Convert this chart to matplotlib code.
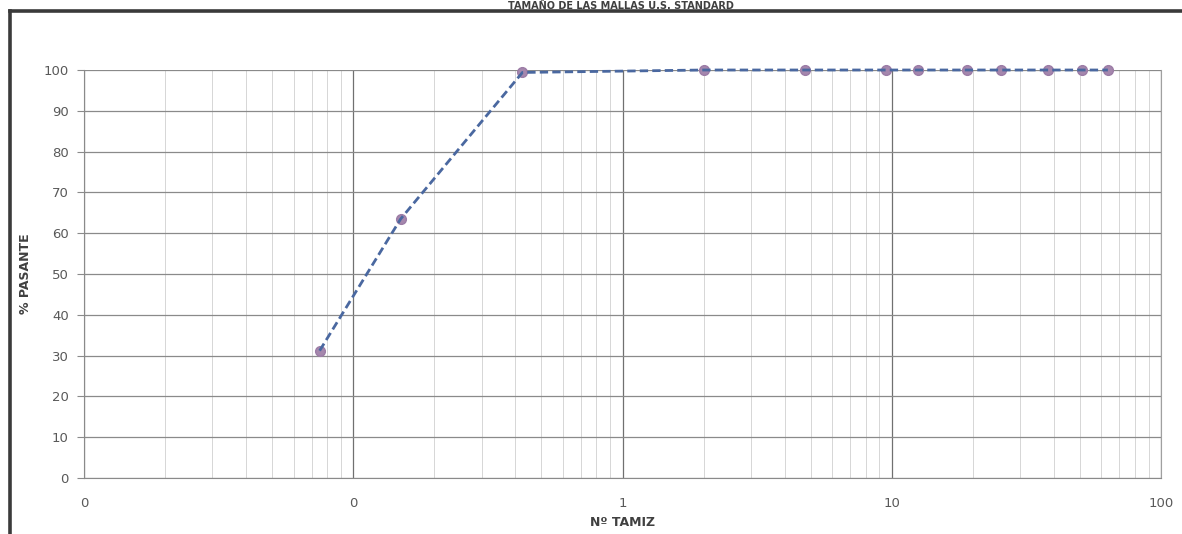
import matplotlib
matplotlib.use("Agg")
import matplotlib.pyplot as plt
from matplotlib.ticker import FixedLocator, FuncFormatter, LogLocator, NullFormatter
from matplotlib.lines import Line2D

# abertura del tamiz (mm) y % que pasa
abertura = [0.075, 0.150, 0.425, 2.00, 4.75, 9.5, 12.5, 19.0, 25.4, 38.1, 50.8, 63.5]
pasante = [31.2, 63.5, 99.4, 100, 100, 100, 100, 100, 100, 100, 100, 100]

yticks = list(range(0, 101, 10))
xticks = [0.01, 0.1, 1, 10, 100]

fig = plt.figure(figsize=(11.82, 5.34), dpi=100)
ax = fig.add_axes([0.0711, 0.1049, 0.9111, 0.764])

ax.set_xscale('log')
ax.set_xlim(0.01, 100)
ax.set_ylim(0, 100)

ax.plot(abertura, pasante, linestyle='none', marker='o', markersize=7,
        markerfacecolor='#a587ad', markeredgecolor='#9c7ca6', zorder=3, clip_on=False)
ax.plot(abertura, pasante, linestyle=(0, (3, 1.5)), color='#4a68a0', linewidth=2,
        zorder=4, clip_on=False)

ax.xaxis.set_major_locator(FixedLocator(xticks))
ax.xaxis.set_major_formatter(FuncFormatter(lambda v, p: f"{v:.0f}"))
ax.xaxis.set_minor_locator(LogLocator(base=10, subs=range(2, 10)))
ax.xaxis.set_minor_formatter(NullFormatter())
ax.set_yticks(yticks)

ax.grid(True, which='major', axis='y', color='#8a8a8a', linewidth=0.9)
ax.grid(True, which='major', axis='x', color='#707070', linewidth=0.9)
ax.grid(True, which='minor', axis='x', color='#d6d6d6', linewidth=0.7)
ax.set_axisbelow(True)

ax.spines['top'].set_visible(False)
ax.spines['right'].set_color('#a0a0a0')
ax.spines['left'].set_color('#8a8a8a')
ax.spines['bottom'].set_color('#8a8a8a')

ax.tick_params(axis='x', which='both', length=0, pad=14, labelsize=9.5, labelcolor='#595959')
ax.tick_params(axis='y', length=5, width=0.8, color='#8a8a8a', pad=6, labelsize=9.5, labelcolor='#595959')

ax.set_ylabel('% PASANTE', fontsize=9, fontweight='bold', color='#404040', labelpad=8)
ax.set_xlabel('Nº TAMIZ', fontsize=9, fontweight='bold', color='#404040', labelpad=4)

# marco exterior del gráfico
fig.add_artist(Line2D([0.0085, 0.0085], [0.0, 0.979], transform=fig.transFigure,
                      color='#3a3a3a', linewidth=2.6))
fig.add_artist(Line2D([0.0085, 1.0], [0.979, 0.979], transform=fig.transFigure,
                      color='#3a3a3a', linewidth=2.6))

fig.text(0.525, 0.999, 'TAMAÑO DE LAS MALLAS U.S. STANDARD', ha='center', va='top',
         fontsize=7, fontweight='bold', color='#404040')

fig.savefig('out.png', dpi=100)
